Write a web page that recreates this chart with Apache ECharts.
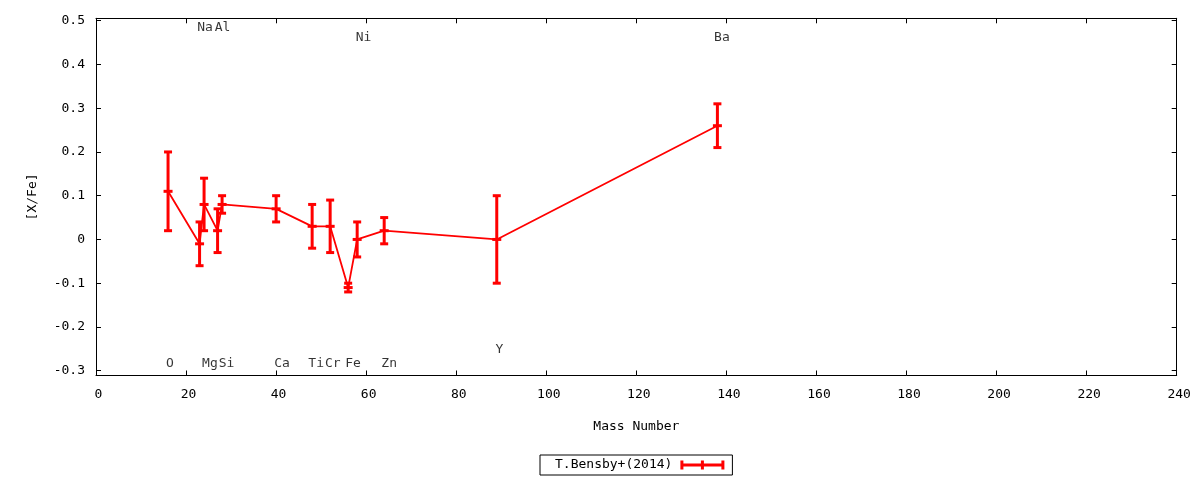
<!DOCTYPE html>
<html>
<head>
<meta charset="utf-8">
<script src="https://cdn.jsdelivr.net/npm/echarts@6/dist/echarts.min.js"></script>
<style>
  html, body { margin: 0; padding: 0; background: #fff; }
  #chart { width: 1200px; height: 480px; }
</style>
</head>
<body>
<div id="chart"></div>
<script>
// measured abundances, [X/Fe] vs mass number
var mass = [16, 23, 24, 27, 28, 40, 48, 52, 56, 58, 64, 89, 138];
var xfe  = [0.11, -0.01, 0.08, 0.02, 0.08, 0.07, 0.03, 0.03, -0.11, 0.00, 0.02, 0.00, 0.26];
var err  = [0.09, 0.05, 0.06, 0.05, 0.02, 0.03, 0.05, 0.06, 0.01, 0.04, 0.03, 0.10, 0.05];

// element labels drawn on the plot
var elemNames = ['O', 'Na', 'Mg', 'Al', 'Si', 'Ca', 'Ti', 'Cr', 'Fe', 'Ni', 'Zn', 'Y', 'Ba'];
var labelX = [16.4, 24.2, 25.3, 28.1, 29.0, 41.3, 48.9, 52.6, 57.1, 59.4, 65.1, 89.6, 139.0];
var labelY = [-0.284, 0.484, -0.284, 0.484, -0.284, -0.284, -0.284, -0.284, -0.284, 0.461, -0.284, -0.252, 0.461];

var seriesName = 'T.Bensby+(2014)';
var red = '#ff0000';
var font = 'DejaVu Sans Mono';

var lineData = mass.map(function (m, i) { return [m, xfe[i]]; });
var errData = mass.map(function (m, i) { return [m, xfe[i], xfe[i] - err[i], xfe[i] + err[i]]; });
var labelData = elemNames.map(function (n, i) { return [labelX[i], labelY[i], n]; });

var chart = echarts.init(document.getElementById('chart'));

var tickStyle = { inside: true, length: 5, lineStyle: { color: '#000', width: 1 } };
var lineStyleAxis = { show: true, onZero: false, lineStyle: { color: '#000', width: 1 } };

var option = {
  animation: false,
  backgroundColor: '#fff',
  textStyle: { fontFamily: font },
  grid: { left: 96, right: 23.3, top: 18.3, bottom: 104.5, containLabel: false },
  xAxis: [{
    type: 'value',
    min: 0, max: 240, interval: 20,
    name: 'Mass Number',
    nameLocation: 'middle',
    nameGap: 45,
    nameTextStyle: { fontFamily: font, fontSize: 13, color: '#000' },
    axisLine: lineStyleAxis,
    axisTick: tickStyle,
    axisLabel: { fontFamily: font, fontSize: 13, color: '#000', margin: 13, padding: [0, 0, 0, 5] },
    splitLine: { show: false }
  }, {
    type: 'value',
    position: 'top',
    min: 0, max: 240, interval: 20,
    axisLine: lineStyleAxis,
    axisTick: tickStyle,
    axisLabel: { show: false },
    splitLine: { show: false }
  }],
  yAxis: [{
    type: 'value',
    min: -0.311, max: 0.5055,
    splitNumber: 8, minInterval: 0.1, maxInterval: 0.1,
    name: '[X/Fe]',
    nameLocation: 'middle',
    nameGap: 57,
    nameRotate: 90,
    nameTextStyle: { fontFamily: font, fontSize: 13, color: '#000' },
    axisLine: lineStyleAxis,
    axisTick: tickStyle,
    axisLabel: { fontFamily: font, fontSize: 13, color: '#000', margin: 11, showMinLabel: false, showMaxLabel: false },
    splitLine: { show: false }
  }, {
    type: 'value',
    position: 'right',
    min: -0.311, max: 0.5055,
    splitNumber: 8, minInterval: 0.1, maxInterval: 0.1,
    axisLine: lineStyleAxis,
    axisTick: tickStyle,
    axisLabel: { show: false },
    splitLine: { show: false }
  }],
  legend: {
    data: [{ name: seriesName, icon: 'path://M0,3h44v3h-44z M0,0h3v9h-3z M20.5,0h3v9h-3z M41,0h3v9h-3z' }],
    left: 540,
    top: 455,
    align: 'right',
    orient: 'horizontal',
    itemWidth: 44,
    itemHeight: 9,
    padding: [3, 8, 3, 15],
    borderColor: '#000',
    borderWidth: 1,
    borderRadius: 0,
    itemStyle: { color: red, borderWidth: 0 },
    textStyle: { fontFamily: font, fontSize: 13, color: '#000', lineHeight: 14, padding: [0, 3, 0, 0] },
    selectedMode: false
  },
  series: [{
    name: seriesName,
    type: 'line',
    data: lineData,
    symbol: 'none',
    lineStyle: { color: red, width: 1.8 },
    itemStyle: { color: red },
    z: 2
  }, {
    name: seriesName,
    type: 'custom',
    data: errData,
    itemStyle: { color: red },
    z: 3,
    renderItem: function (params, api) {
      var x = api.value(0);
      var c = api.coord([x, api.value(1)]);
      var lo = api.coord([x, api.value(2)]);
      var hi = api.coord([x, api.value(3)]);
      var w = 4;
      var st = { stroke: red, lineWidth: 3 };
      return {
        type: 'group',
        children: [
          { type: 'line', shape: { x1: c[0], y1: lo[1], x2: c[0], y2: hi[1] }, style: st },
          { type: 'line', shape: { x1: c[0] - w, y1: lo[1], x2: c[0] + w, y2: lo[1] }, style: st },
          { type: 'line', shape: { x1: c[0] - w, y1: hi[1], x2: c[0] + w, y2: hi[1] }, style: st },
          { type: 'line', shape: { x1: c[0] - w - 0.5, y1: c[1], x2: c[0] + w + 0.5, y2: c[1] }, style: st }
        ]
      };
    }
  }, {
    name: 'elements',
    type: 'scatter',
    data: labelData,
    symbolSize: 1,
    itemStyle: { color: 'rgba(0,0,0,0)' },
    label: {
      show: true,
      position: 'inside',
      formatter: function (p) { return p.value[2]; },
      fontFamily: font,
      fontSize: 13,
      color: '#000'
    },
    silent: true,
    z: 4
  }]
};

chart.setOption(option);
</script>
</body>
</html>
